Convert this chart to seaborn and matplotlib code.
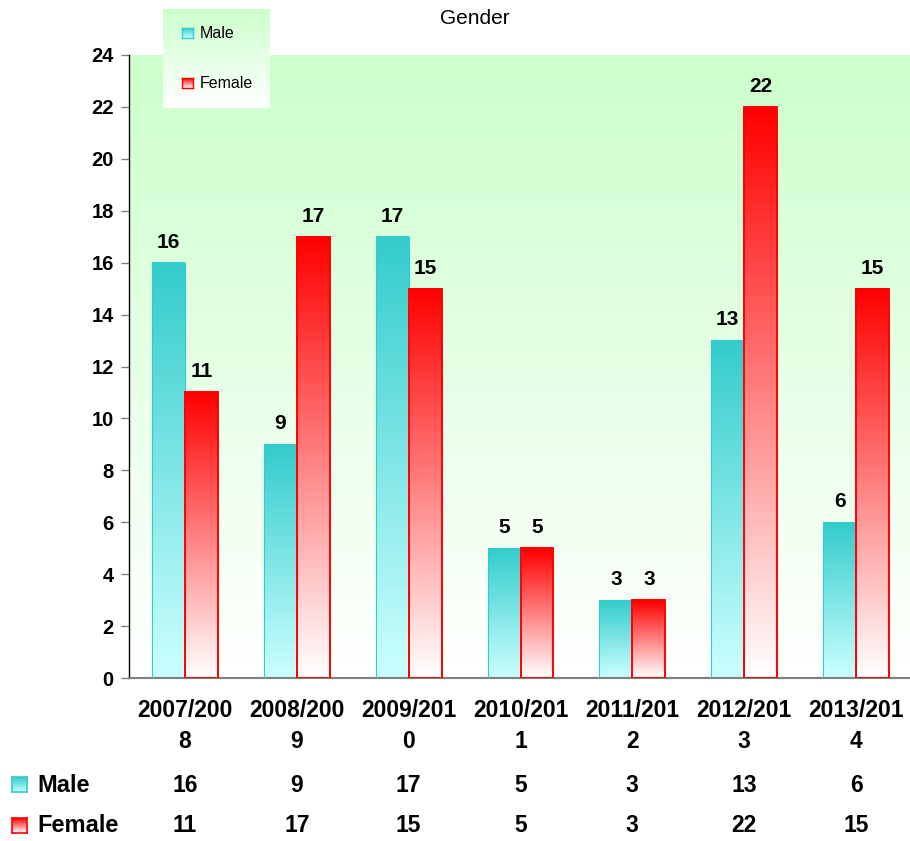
import numpy as np
import pandas as pd
import matplotlib
matplotlib.use("Agg")
import matplotlib.pyplot as plt
import seaborn as sns
from matplotlib.colors import LinearSegmentedColormap
from matplotlib.transforms import blended_transform_factory

# Data
years = ["2007/2008", "2008/2009", "2009/2010", "2010/2011", "2011/2012", "2012/2013", "2013/2014"]
tick_labels = ["2007/200\n8", "2008/200\n9", "2009/201\n0", "2010/201\n1",
               "2011/201\n2", "2012/201\n3", "2013/201\n4"]
series = ["Male", "Female"]
male = [16, 9, 17, 5, 3, 13, 6]
female = [11, 17, 15, 5, 3, 22, 15]

# Colours: (top, bottom, edge) per series
styles = {
    "Male": ("#33CCCC", "#CCFFFF", "#33CCCC"),
    "Female": ("#FF0000", "#FFFFFF", "#FF0000"),
}

W, H = 910, 841


def fig_rect(x0, y0, w, h):
    """Pixel box (top-left origin) -> figure fraction rect."""
    return [x0 / W, 1 - (y0 + h) / H, w / W, h / H]


def vgrad(top, bottom):
    return LinearSegmentedColormap.from_list("g", [bottom, top])


def grad_box(fig, x0, y0, w, h, top, bottom, edge=None, lw=1.0):
    """Small gradient-filled box drawn as its own axes."""
    bx = fig.add_axes(fig_rect(x0, y0, w, h))
    bx.imshow(np.linspace(0, 1, 64).reshape(-1, 1), cmap=vgrad(top, bottom),
              origin="lower", aspect="auto", extent=[0, 1, 0, 1])
    bx.set_xticks([])
    bx.set_yticks([])
    for sp in bx.spines.values():
        if edge is None:
            sp.set_visible(False)
        else:
            sp.set_color(edge)
            sp.set_linewidth(lw)
    return bx


df = pd.DataFrame({
    "year": years * 2,
    "gender": ["Male"] * len(years) + ["Female"] * len(years),
    "count": male + female,
})

sns.set_theme(style="white")
plt.rcParams["font.family"] = ["Liberation Sans", "DejaVu Sans"]
plt.rcParams["text.color"] = "black"
plt.rcParams["xtick.color"] = "black"
plt.rcParams["ytick.color"] = "black"

fig = plt.figure(figsize=(W / 100, H / 100), dpi=100)
ax = fig.add_axes(fig_rect(129, 55, 783, 623))

sns.barplot(data=df, x="year", y="count", hue="gender", hue_order=series,
            order=years, width=0.59, legend=False, ax=ax)

# Background gradient (light green -> white)
ax.imshow(np.linspace(0, 1, 256).reshape(-1, 1), cmap=vgrad("#CCFFCC", "#FFFFFF"),
          origin="lower", aspect="auto", extent=[-0.5, 6.5, 0, 24], zorder=0)

# Gradient fill for each bar
for name, cont in zip(series, ax.containers):
    top, bottom, edge = styles[name]
    cmap = vgrad(top, bottom)
    for p in cont.patches:
        x, w, h = p.get_x(), p.get_width(), p.get_height()
        p.set_facecolor("none")
        p.set_edgecolor(edge)
        p.set_linewidth(1.4 if name == "Female" else 0.8)
        p.set_zorder(3)
        ax.imshow(np.linspace(0, 1, 128).reshape(-1, 1), cmap=cmap, origin="lower",
                  aspect="auto", extent=[x, x + w, 0, h], zorder=2)
    ax.bar_label(cont, fmt="%g", padding=8, fontsize=15, fontweight="bold", color="black")

ax.set_xlim(-0.5, 6.5)
ax.set_ylim(0, 24)
ax.set_yticks(range(0, 25, 2))
ax.set_xticks(range(len(years)))
ax.set_xticklabels(tick_labels)
ax.set_xlabel("")
ax.set_ylabel("")
ax.tick_params(axis="y", left=True, length=6, width=1, color="#808080", pad=5,
               labelsize=14.5, labelcolor="black")
ax.tick_params(axis="x", bottom=False, pad=9, labelsize=16.5, labelcolor="black")
for lbl in ax.get_yticklabels() + ax.get_xticklabels():
    lbl.set_fontweight("bold")
for lbl in ax.get_xticklabels():
    lbl.set_linespacing(1.45)

ax.spines["top"].set_visible(False)
ax.spines["right"].set_visible(False)
ax.spines["left"].set_color("black")
ax.spines["left"].set_linewidth(1)
ax.spines["bottom"].set_color("#808080")
ax.spines["bottom"].set_linewidth(1.5)

# Data table under the chart
trans = blended_transform_factory(ax.transData, ax.transAxes)
for values, y_px in [(male, 785), (female, 826)]:
    y_ax = (678 - y_px) / 623
    for i, v in enumerate(values):
        ax.text(i, y_ax, str(v), transform=trans, ha="center", va="center",
                fontsize=16.5, fontweight="bold", color="black", clip_on=False)

for name, y_px in [("Male", 785), ("Female", 826)]:
    top, bottom, edge = styles[name]
    grad_box(fig, 12, y_px - 8, 15, 15, top, bottom, edge, lw=1.2)
    fig.text(37 / W, 1 - y_px / H, name, ha="left", va="center",
             fontsize=17, fontweight="bold", color="black")

# Title
fig.text(475 / W, 1 - 18 / H, "Gender", ha="center", va="center", fontsize=15,
         color="black")

# Legend box
lg = grad_box(fig, 163, 9, 107, 99, "#CCFFCC", "#FFFFFF")
for name, y_px in [("Male", 33), ("Female", 83)]:
    top, bottom, edge = styles[name]
    grad_box(fig, 182, y_px - 5, 11, 10, top, bottom, edge, lw=1.0)
    fig.text(200 / W, 1 - y_px / H, name, ha="left", va="center", fontsize=11.5,
             color="black")

fig.savefig("out.png", dpi=100)
